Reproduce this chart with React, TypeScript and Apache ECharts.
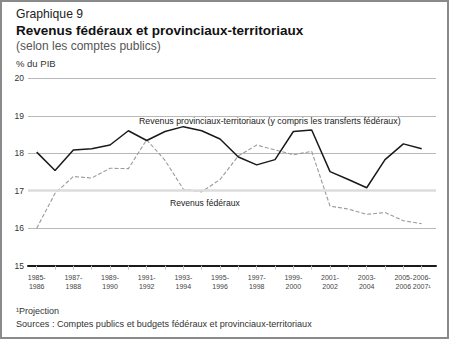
import React, { useEffect, useRef } from "react";
import * as echarts from "echarts";

const categories = [
  "1985-\n1986", "1986-\n1987", "1987-\n1988", "1988-\n1989", "1989-\n1990", "1990-\n1991",
  "1991-\n1992", "1992-\n1993", "1993-\n1994", "1994-\n1995", "1995-\n1996", "1996-\n1997",
  "1997-\n1998", "1998-\n1999", "1999-\n2000", "2000-\n2001", "2001-\n2002", "2002-\n2003",
  "2003-\n2004", "2004-\n2005", "2005-\n2006", "2006-\n2007¹",
];

const provincial = [
  18.03, 17.54, 18.09, 18.12, 18.22, 18.6, 18.34, 18.58, 18.71, 18.6, 18.38, 17.9,
  17.69, 17.83, 18.58, 18.62, 17.51, 17.3, 17.08, 17.83, 18.25, 18.12,
];

const federal = [
  16.0, 16.93, 17.38, 17.34, 17.6, 17.59, 18.36, 17.81, 17.04, 16.97, 17.3, 17.93,
  18.22, 18.09, 17.96, 18.05, 16.59, 16.51, 16.37, 16.42, 16.2, 16.12,
];

const yTicks = [15, 16, 17, 18, 19, 20];

const FONT = "'Liberation Sans', Arial, Helvetica, sans-serif";

export default function App() {
  const ref = useRef<HTMLDivElement>(null);

  useEffect(() => {
    document.body.style.margin = "0";
    const chart = echarts.init(ref.current!, null, { renderer: "svg" });
    const yMin = yTicks[0];
    const yMax = yTicks[yTicks.length - 1];
    const last = categories.length - 1;
    const labelStyle = {
      fontSize: 7,
      color: "#444",
      lineHeight: 9,
      margin: 7,
      fontFamily: FONT,
      hideOverlap: false,
    };
    chart.setOption({
      animation: false,
      textStyle: { fontFamily: FONT },
      grid: [
        { left: 28, right: 14, top: 78.3, bottom: 74.3 },
        { left: 36.7, right: 28.3, top: 78.3, bottom: 74.3 },
      ],
      xAxis: [
        {
          gridIndex: 0,
          type: "value",
          min: 0,
          max: 1,
          axisLine: { show: true, lineStyle: { color: "#1a1a1a", width: 2 } },
          axisTick: { show: false },
          axisLabel: { show: false },
          splitLine: { show: false },
        },
        {
          gridIndex: 1,
          type: "category",
          data: categories,
          boundaryGap: false,
          axisLine: { show: false },
          axisTick: {
            show: true,
            interval: 0,
            length: 4,
            lineStyle: { color: "#c4c4c4", width: 1 },
          },
          axisLabel: {
            ...labelStyle,
            interval: (i: number) => i % 2 === 0,
            showMaxLabel: true,
            showMinLabel: true,
          },
          splitLine: { show: false },
        },
        {
          gridIndex: 1,
          type: "category",
          data: categories,
          boundaryGap: false,
          position: "bottom",
          axisLine: { show: false },
          axisTick: { show: false },
          axisLabel: {
            ...labelStyle,
            interval: (i: number) => i === last,
            showMaxLabel: true,
            showMinLabel: false,
          },
          splitLine: { show: false },
        },
      ],
      yAxis: [
        {
          gridIndex: 0,
          type: "value",
          min: yMin,
          max: yMax,
          interval: 1,
          axisLine: { show: false },
          axisTick: { show: false },
          axisLabel: { fontSize: 8.5, color: "#333", margin: 4, fontFamily: FONT },
          splitLine: {
            show: true,
            lineStyle: { color: ["#1a1a1a", "#b8b8b8", "#dcdcdc", "#b8b8b8", "#b8b8b8", "#b8b8b8"], width: 1 },
          },
        },
        {
          gridIndex: 1,
          type: "value",
          min: yMin,
          max: yMax,
          interval: 1,
          show: false,
          splitLine: { show: false },
        },
      ],
      series: [
        {
          type: "line",
          xAxisIndex: 0,
          yAxisIndex: 0,
          data: [],
          silent: true,
          markLine: {
            silent: true,
            symbol: "none",
            label: { show: false },
            lineStyle: { color: "#dcdcdc", width: 2.5, type: "solid" },
            data: [{ yAxis: 17 }],
          },
        },
        {
          name: "Revenus fédéraux",
          type: "line",
          xAxisIndex: 1,
          yAxisIndex: 1,
          data: federal,
          symbol: "none",
          lineStyle: { color: "#9a9a9a", width: 1.1, type: [4, 2] },
        },
        {
          name: "Revenus provinciaux-territoriaux",
          type: "line",
          xAxisIndex: 1,
          yAxisIndex: 1,
          data: provincial,
          symbol: "none",
          lineStyle: { color: "#1a1a1a", width: 1.5 },
        },
      ],
      graphic: [
        {
          type: "rect",
          shape: { x: 1, y: 1, width: 447, height: 337 },
          style: { fill: "none", stroke: "#8a8a8a", lineWidth: 2 },
          silent: true,
        },
        {
          type: "text",
          x: 16,
          y: 14,
          style: { text: "Graphique 9", fontSize: 12.2, fill: "#222", fontFamily: FONT, verticalAlign: "middle" },
        },
        {
          type: "text",
          x: 16,
          y: 30,
          style: {
            text: "Revenus fédéraux et provinciaux-territoriaux",
            fontSize: 13.5,
            fontWeight: "bold",
            fill: "#111",
            fontFamily: FONT,
            verticalAlign: "middle",
          },
        },
        {
          type: "text",
          x: 16,
          y: 46,
          style: { text: "(selon les comptes publics)", fontSize: 12, fill: "#555", fontFamily: FONT, verticalAlign: "middle" },
        },
        {
          type: "text",
          x: 16,
          y: 63,
          style: { text: "% du PIB", fontSize: 9.5, fill: "#333", fontFamily: FONT, verticalAlign: "middle" },
        },
        {
          type: "text",
          x: 139,
          y: 121,
          style: {
            text: "Revenus provinciaux-territoriaux (y compris les transferts fédéraux)",
            fontSize: 8.8,
            fill: "#222",
            fontFamily: FONT,
            verticalAlign: "middle",
          },
        },
        {
          type: "text",
          x: 170,
          y: 203,
          style: { text: "Revenus fédéraux", fontSize: 8.6, fill: "#222", fontFamily: FONT, verticalAlign: "middle" },
        },
        {
          type: "text",
          x: 16,
          y: 310.5,
          style: { text: "¹Projection", fontSize: 9, fill: "#333", fontFamily: FONT, verticalAlign: "middle" },
        },
        {
          type: "text",
          x: 16,
          y: 323.5,
          style: {
            text: "Sources : Comptes publics et budgets fédéraux et provinciaux-territoriaux",
            fontSize: 9.1,
            fill: "#333",
            fontFamily: FONT,
            verticalAlign: "middle",
          },
        },
      ],
    });
    return () => chart.dispose();
  }, []);

  return <div ref={ref} style={{ width: 450, height: 340, position: "absolute", left: 0, top: 0, background: "#fff" }} />;
}
